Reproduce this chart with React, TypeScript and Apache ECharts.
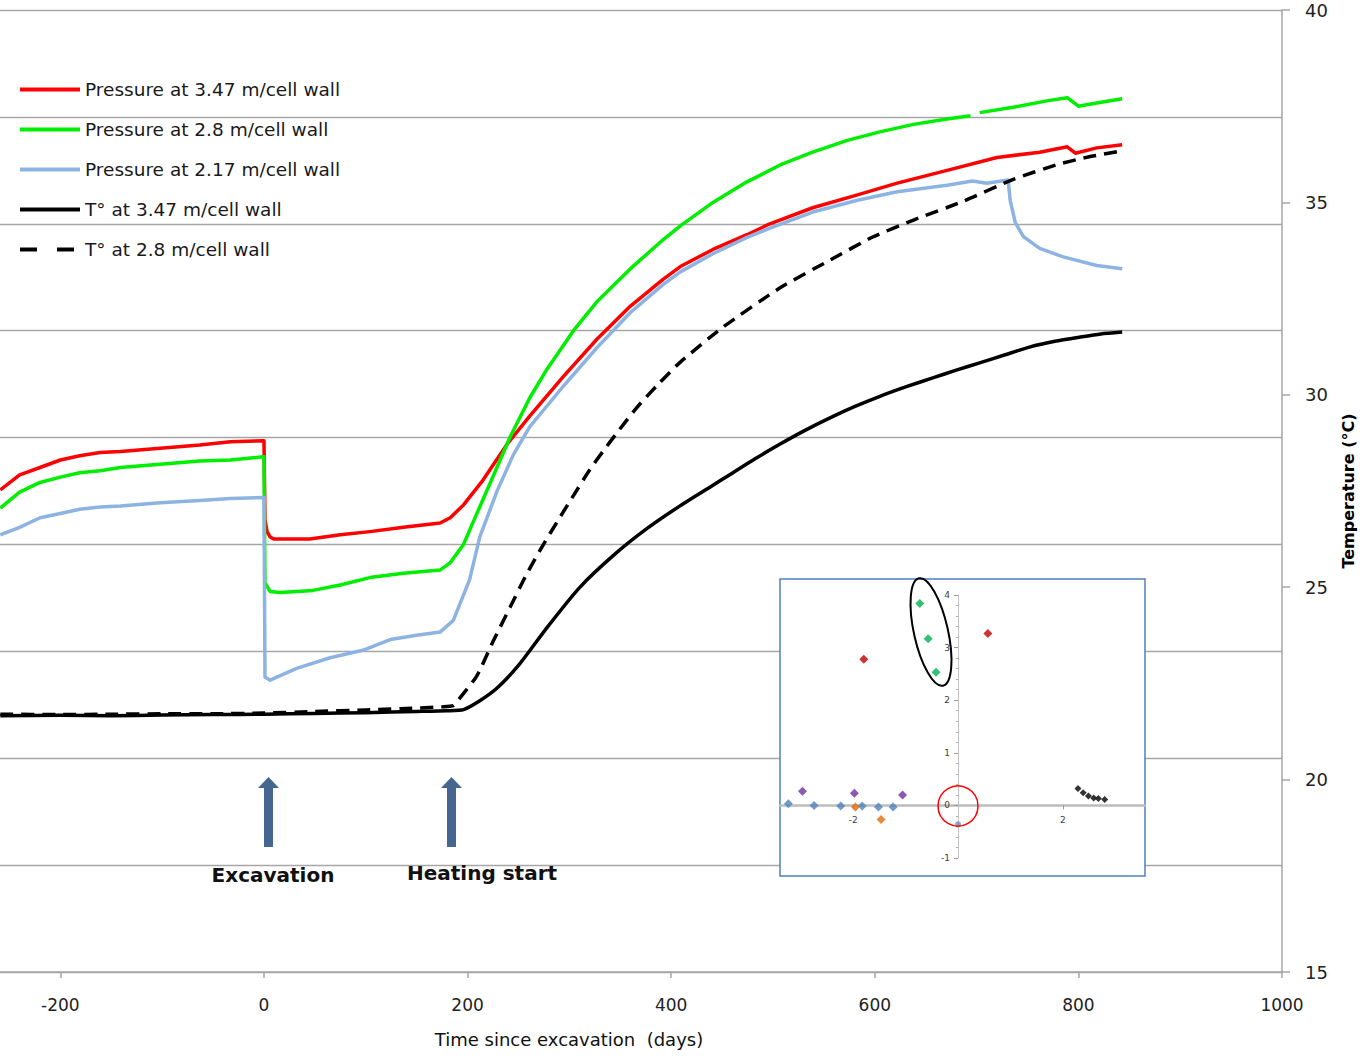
import React, { useEffect, useRef } from "react";
import * as echarts from "echarts";

// ---------- main chart data (days since excavation, value) ----------
const xTickValues = [-200, 0, 200, 400, 600, 800, 1000];

// Pressure (left, hidden axis, MPa) at 3.47 m / cell wall
const pressure347: (number[] | null)[] = [
  [-259, 4.51], [-240, 4.65], [-220, 4.72], [-200, 4.79], [-181, 4.83], [-161, 4.86], [-141, 4.87],
  [-102, 4.90], [-63, 4.93], [-33, 4.96], [-1, 4.97], [0, 4.97], [1, 4.23], [3, 4.12], [6, 4.07],
  [10, 4.05], [45, 4.05], [75, 4.09], [104, 4.12], [137, 4.16], [173, 4.20], [183, 4.25], [196, 4.37],
  [215, 4.60], [239, 4.94], [261, 5.20], [294, 5.57], [327, 5.92], [360, 6.23], [392, 6.48], [409, 6.60],
  [441, 6.76], [475, 6.90], [497, 7.00], [539, 7.15], [583, 7.27], [622, 7.38], [671, 7.50], [720, 7.62],
  [762, 7.67], [789, 7.72], [797, 7.66], [818, 7.71], [843, 7.74],
];

// Pressure at 2.8 m / cell wall
const pressure28: (number[] | null)[] = [
  [-259, 4.34], [-240, 4.49], [-220, 4.58], [-200, 4.63], [-181, 4.67], [-161, 4.69], [-141, 4.72],
  [-102, 4.75], [-63, 4.78], [-33, 4.79], [-1, 4.82], [0, 4.82], [1, 3.64], [6, 3.56], [16, 3.55],
  [48, 3.57], [75, 3.62], [104, 3.69], [137, 3.73], [173, 3.76], [183, 3.83], [196, 4.00], [205, 4.20],
  [222, 4.57], [242, 5.01], [261, 5.37], [278, 5.64], [304, 6.00], [327, 6.27], [360, 6.58], [392, 6.85],
  [409, 6.98], [441, 7.20], [474, 7.39], [507, 7.55], [539, 7.67], [573, 7.78], [605, 7.86], [638, 7.93],
  [671, 7.98], [694, 8.01], null, [703, 8.04], [736, 8.09], [769, 8.15], [789, 8.18], [800, 8.10],
  [818, 8.13], [843, 8.17],
];

// Pressure at 2.17 m / cell wall
const pressure217: (number[] | null)[] = [
  [-259, 4.09], [-240, 4.16], [-220, 4.25], [-200, 4.29], [-181, 4.33], [-161, 4.35], [-141, 4.36],
  [-102, 4.39], [-63, 4.41], [-33, 4.43], [-1, 4.44], [0, 4.44], [1, 2.76], [6, 2.73], [32, 2.84],
  [65, 2.94], [97, 3.01], [124, 3.11], [150, 3.15], [173, 3.18], [186, 3.29], [202, 3.67], [212, 4.07],
  [229, 4.50], [245, 4.84], [261, 5.10], [294, 5.48], [327, 5.84], [360, 6.17], [392, 6.43], [409, 6.55],
  [441, 6.72], [474, 6.87], [497, 6.96], [539, 7.11], [583, 7.22], [622, 7.30], [671, 7.36], [696, 7.40],
  [710, 7.38], [731, 7.41], [733, 7.22], [738, 7.01], [746, 6.88], [762, 6.77], [785, 6.69], [818, 6.61],
  [843, 6.58],
];

// Temperature (right axis, °C) at 3.47 m / cell wall
const temp347: number[][] = [
  [-259, 21.66], [-200, 21.67], [-150, 21.66], [-100, 21.68], [-50, 21.69], [0, 21.70], [50, 21.72],
  [100, 21.74], [150, 21.77], [180, 21.79], [196, 21.82], [212, 22.05], [229, 22.38], [251, 23.00],
  [278, 23.95], [310, 24.99], [343, 25.82], [376, 26.52], [409, 27.12], [441, 27.65], [458, 27.93],
  [482, 28.33], [507, 28.72], [531, 29.07], [556, 29.40], [580, 29.69], [605, 29.96], [631, 30.21],
  [657, 30.44], [680, 30.64], [703, 30.83], [728, 31.04], [752, 31.24], [777, 31.39], [802, 31.50],
  [822, 31.58], [843, 31.63],
];

// Temperature at 2.8 m / cell wall
const temp28: number[][] = [
  [-259, 21.70], [-200, 21.69], [-150, 21.70], [-100, 21.71], [-50, 21.71], [0, 21.73], [50, 21.77],
  [100, 21.81], [150, 21.86], [175, 21.89], [186, 21.92], [190, 22.04], [209, 22.69], [225, 23.59],
  [242, 24.49], [258, 25.34], [274, 26.09], [288, 26.70], [304, 27.38], [320, 28.05], [333, 28.53],
  [347, 29.02], [366, 29.66], [386, 30.24], [409, 30.85], [451, 31.76], [507, 32.78], [556, 33.50],
  [598, 34.10], [638, 34.54], [687, 35.03], [736, 35.60], [779, 35.98], [808, 36.17], [843, 36.34],
];

const seriesNames = [
  "Pressure at 3.47 m/cell wall",
  "Pressure at 2.8 m/cell wall",
  "Pressure at 2.17 m/cell wall",
  "T° at 3.47 m/cell wall",
  "T° at 2.8 m/cell wall",
];

// ---------- inset scatter data ----------
const insetXLabels = [-2, 2];
const insetBlue = [[-3.24, 0.03], [-2.75, 0], [-2.24, -0.01], [-1.83, -0.01], [-1.52, -0.03], [-1.24, -0.03]];
const insetPurple = [[-2.97, 0.27], [-1.98, 0.23], [-1.06, 0.2]];
const insetOrange = [[-1.96, -0.03], [-1.47, -0.27]];
const insetGreen = [[-0.73, 3.84], [-0.57, 3.17], [-0.42, 2.53]];
const insetRed = [[-1.8, 2.78], [0.57, 3.27]];
const insetBlack = [[2.29, 0.32], [2.39, 0.24], [2.49, 0.18], [2.59, 0.14], [2.68, 0.13], [2.8, 0.11]];
const insetGray = [[0, -0.36]];

const FONT = "DejaVu Sans";
const GRID_GRAY = "#a6a6a6";
const ARROW = "#45668f";

// inset plot-area geometry (annotation box)
const INSET = { left: 780, top: 595, width: 365, height: 263 };
const INSET_X = { min: -3.4, max: 3.57 };
const INSET_Y = { min: -1, max: 4 };

function arrowPoints(cx: number) {
  return [
    [cx - 4.5, 847], [cx - 4.5, 788], [cx - 10.5, 788], [cx, 777],
    [cx + 10.5, 788], [cx + 4.5, 788], [cx + 4.5, 847],
  ];
}

export default function App() {
  const ref = useRef<HTMLDivElement>(null);

  useEffect(() => {
    const chart = echarts.init(ref.current!, null, { renderer: "svg" });

    const lineSeries = (
      name: string,
      data: any,
      color: string,
      yAxisIndex: number,
      dashed = false,
      smooth: number | boolean = false
    ) => ({
      name,
      type: "line",
      data,
      xAxisIndex: 0,
      yAxisIndex,
      symbol: "none",
      showSymbol: false,
      connectNulls: false,
      smooth,
      z: 2,
      lineStyle: { color, width: 3.5, type: dashed ? [13, 8] : "solid", cap: "butt", join: "round" },
      itemStyle: { color },
    });

    const scatter = (data: number[][], color: string, size = 9, symbol = "diamond") => ({
      type: "scatter",
      xAxisIndex: 1,
      yAxisIndex: 2,
      data,
      symbol,
      symbolSize: size,
      itemStyle: { color },
      z: 5,
      silent: true,
    });

    // pixel offsets of the inset axes so they cross at (0, 0)
    const pxPerX = INSET.width / (INSET_X.max - INSET_X.min);
    const pxPerY = INSET.height / (INSET_Y.max - INSET_Y.min);
    const yAxisOffset = -(0 - INSET_X.min) * pxPerX;
    const xAxisOffset = -(0 - INSET_Y.min) * pxPerY;

    const legendData = seriesNames.map((name, i) =>
      i === 4 ? { name, lineStyle: { type: [17, 20], width: 4 } } : { name }
    );

    const option: any = {
      animation: false,
      backgroundColor: "#ffffff",
      textStyle: { fontFamily: FONT },
      grid: [
        { left: 0, right: 83, top: 10, bottom: 88, containLabel: false },
        { left: INSET.left, top: INSET.top, width: INSET.width, height: INSET.height, containLabel: false, z: 4 },
      ],
      legend: {
        data: legendData,
        orient: "vertical",
        left: 18,
        top: 80,
        padding: 0,
        itemWidth: 60,
        itemHeight: 18,
        itemGap: 21,
        selectedMode: false,
        itemStyle: { opacity: 0, borderWidth: 0 },
        lineStyle: { width: 4 },
        textStyle: { fontFamily: FONT, fontSize: 18.5, color: "#1a1a1a" },
      },
      xAxis: [
        {
          type: "value",
          gridIndex: 0,
          min: -259.3,
          max: 1000,
          position: "bottom",
          name: "Time since excavation  (days)",
          nameLocation: "middle",
          nameGap: 58,
          nameTextStyle: { fontFamily: FONT, fontSize: 18, color: "#111", padding: [0, 144, 0, 0] },
          axisLine: { onZero: false, lineStyle: { color: GRID_GRAY, width: 1.5 } },
          axisTick: { show: true, length: 6, customValues: xTickValues, lineStyle: { color: GRID_GRAY, width: 1.5 } },
          axisLabel: {
            customValues: xTickValues,
            fontSize: 17,
            color: "#222",
            margin: 24,
            fontFamily: FONT,
            formatter: (v: number) => String(v),
          },
          splitLine: { show: false },
        },
        {
          type: "value",
          gridIndex: 1,
          min: INSET_X.min,
          max: INSET_X.max,
          position: "bottom",
          offset: xAxisOffset,
          z: 5,
          axisLine: { onZero: false, lineStyle: { color: "#bdbdbd", width: 2.5 } },
          axisTick: { show: true, length: 4, customValues: insetXLabels, lineStyle: { color: "#9a9a9a" } },
          axisLabel: { customValues: insetXLabels, fontSize: 9, color: "#404040", margin: 10 },
          splitLine: { show: false },
        },
      ],
      yAxis: [
        {
          type: "value",
          gridIndex: 0,
          min: 0,
          max: 9,
          interval: 1,
          position: "left",
          axisLine: { show: false },
          axisTick: { show: false },
          axisLabel: { show: false },
          splitLine: { show: true, lineStyle: { color: GRID_GRAY, width: 1.3 } },
        },
        {
          type: "value",
          gridIndex: 0,
          min: 15,
          max: 40,
          interval: 5,
          position: "right",
          name: "Temperature (°C)",
          nameLocation: "middle",
          nameRotate: 90,
          nameGap: 58,
          nameTextStyle: { fontFamily: FONT, fontSize: 16, fontWeight: "bold", color: "#000" },
          axisLine: { show: true, lineStyle: { color: GRID_GRAY, width: 1.5 } },
          axisTick: { show: true, length: 8, lineStyle: { color: GRID_GRAY, width: 1.5 } },
          axisLabel: { fontSize: 18, color: "#222", margin: 23, fontFamily: FONT },
          splitLine: { show: false },
        },
        {
          type: "value",
          gridIndex: 1,
          min: INSET_Y.min,
          max: INSET_Y.max,
          interval: 1,
          position: "left",
          offset: yAxisOffset,
          z: 5,
          axisLine: { onZero: false, lineStyle: { color: "#c4c4c4", width: 1 } },
          axisTick: { show: true, length: 4, lineStyle: { color: "#9a9a9a" } },
          minorTick: { show: true, splitNumber: 5, length: 2, lineStyle: { color: "#b0b0b0" } },
          axisLabel: { fontSize: 9, color: "#404040", margin: 8 },
          splitLine: { show: false },
        },
      ],
      series: [
        lineSeries(seriesNames[0], pressure347, "#ff0000", 0),
        lineSeries(seriesNames[1], pressure28, "#00ee00", 0),
        lineSeries(seriesNames[2], pressure217, "#8db3e2", 0),
        lineSeries(seriesNames[3], temp347, "#000000", 1, false, 0.2),
        lineSeries(seriesNames[4], temp28, "#000000", 1, true, 0.2),
        scatter(insetBlue, "#4f81bd"),
        scatter(insetPurple, "#7030a0"),
        scatter(insetOrange, "#e46c0a"),
        scatter(insetGreen, "#00b050"),
        scatter(insetRed, "#c00000"),
        scatter(insetBlack, "#000000", 7),
        scatter(insetGray, "#6f8fb5", 6, "circle"),
      ],
      graphic: [
        {
          type: "rect",
          z: 3,
          silent: true,
          shape: { x: 780, y: 579, width: 365, height: 297 },
          style: { fill: "#ffffff", stroke: "#4f81bd", lineWidth: 1.5 },
        },
        {
          type: "ellipse",
          z: 10,
          x: 931,
          y: 632,
          rotation: 0.22,
          silent: true,
          shape: { cx: 0, cy: 0, rx: 17, ry: 55 },
          style: { fill: "none", stroke: "#000000", lineWidth: 2 },
        },
        {
          type: "circle",
          z: 10,
          silent: true,
          shape: { cx: 958, cy: 806, r: 20 },
          style: { fill: "none", stroke: "#ff0000", lineWidth: 1.5 },
        },
        {
          type: "polygon",
          z: 10,
          silent: true,
          shape: { points: arrowPoints(268.5) },
          style: { fill: ARROW },
        },
        {
          type: "polygon",
          z: 10,
          silent: true,
          shape: { points: arrowPoints(451.5) },
          style: { fill: ARROW },
        },
        {
          type: "text",
          z: 10,
          x: 273,
          y: 875,
          style: {
            text: "Excavation",
            fontFamily: FONT,
            fontSize: 20,
            fontWeight: "bold",
            fill: "#111",
            align: "center",
            verticalAlign: "middle",
          },
        },
        {
          type: "text",
          z: 10,
          x: 482,
          y: 873,
          style: {
            text: "Heating start",
            fontFamily: FONT,
            fontSize: 20,
            fontWeight: "bold",
            fill: "#111",
            align: "center",
            verticalAlign: "middle",
          },
        },
      ],
    };

    chart.setOption(option);
    return () => chart.dispose();
  }, []);

  return (
    <div
      ref={ref}
      style={{ position: "absolute", left: 0, top: 0, width: 1365, height: 1060, background: "#fff" }}
    />
  );
}
